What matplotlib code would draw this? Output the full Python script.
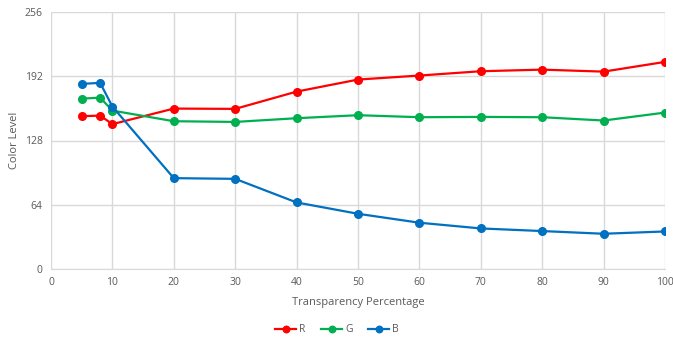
import matplotlib
matplotlib.use("Agg")
import matplotlib.pyplot as plt

x = [5, 8, 10, 20, 30, 40, 50, 60, 70, 80, 90, 100]
R = [152.2, 152.8, 144.3, 159.8, 159.5, 176.7, 188.7, 192.7, 197.0, 198.6, 196.6, 206.3]
G = [169.7, 170.7, 157.8, 147.2, 146.5, 150.2, 153.2, 151.2, 151.5, 151.2, 147.9, 155.8]
B = [184.4, 185.4, 161.8, 90.5, 89.8, 66.3, 55.0, 46.1, 40.4, 37.8, 35.1, 37.4]
yticks = [0, 64, 128, 192, 256]
xticks = list(range(0, 101, 10))

plt.rcParams['font.family'] = ['Open Sans', 'DejaVu Sans']
txt = '#595959'

fig = plt.figure(figsize=(6.73, 3.39), dpi=100)
ax = fig.add_axes([51/673, 1 - 269/339, (665 - 51)/673, (269 - 12)/339])

series = [("R", R, '#FF0000'), ("G", G, '#00B050'), ("B", B, '#0070C0')]
for name, vals, c in series:
    ax.plot(x, vals, color=c, lw=1.6, marker='o', markersize=5.5, label=name)

ax.set_xlim(0, 100)
ax.set_ylim(0, 256)
ax.set_xticks(xticks)
ax.set_yticks(yticks)
ax.grid(True, color='#D9D9D9', lw=1)
ax.set_axisbelow(True)
for s in ['top', 'right', 'left']:
    ax.spines[s].set_visible(False)
ax.spines['bottom'].set_color('#D9D9D9')
ax.tick_params(length=0, colors=txt, labelsize=7.5, pad=6)
ax.set_xlabel('Transparency Percentage', color=txt, fontsize=8, labelpad=6)
ax.set_ylabel('Color Level', color=txt, fontsize=8, labelpad=3)

fig.legend(loc='center', bbox_to_anchor=(337/673, 1 - 330/339), ncol=3, frameon=False,
           fontsize=7.5, labelcolor=txt, handlelength=2.0, columnspacing=1.5,
           handletextpad=0.3, markerscale=0.85)

fig.savefig('out.png', dpi=100)
